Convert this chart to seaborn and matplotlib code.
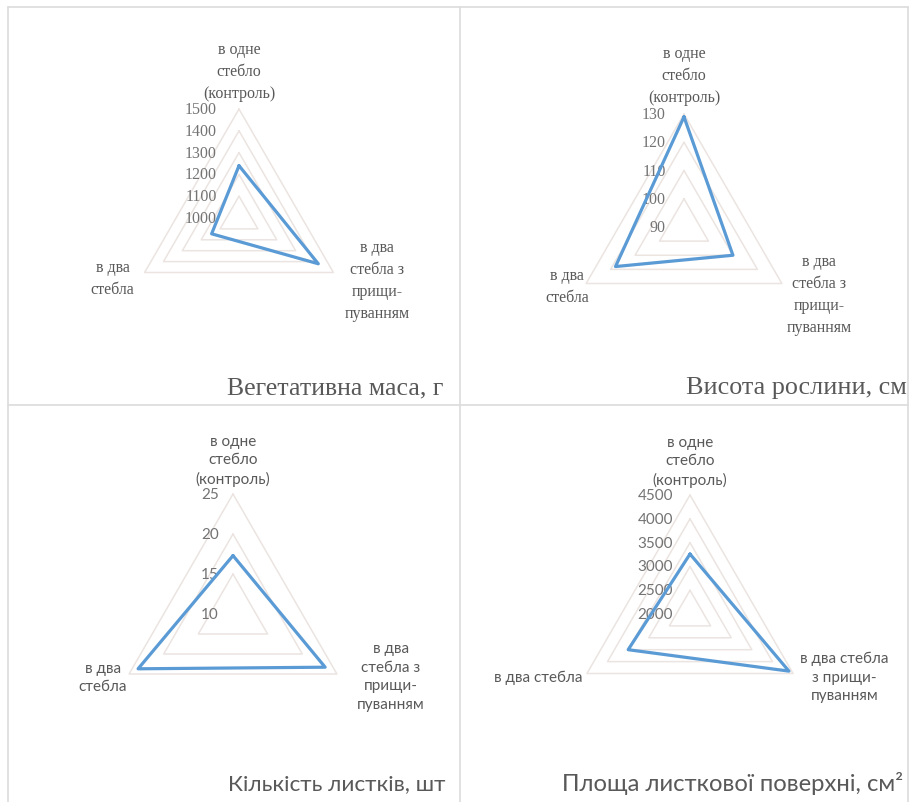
import numpy as np
import pandas as pd
import matplotlib
matplotlib.use("Agg")
import matplotlib.pyplot as plt
import seaborn as sns
from matplotlib.transforms import offset_copy
from matplotlib.lines import Line2D

sns.set_theme(style="white")

W, H = 910, 803
DPI = 100

# ---------------- data ----------------
cat_top = "в одне\nстебло\n(контроль)"
cat_right = "в два\nстебла з\nприщи-\nпуванням"
cat_left = "в два\nстебла"
cat_right_4 = "в два стебла\nз прищи-\nпуванням"
cat_left_4 = "в два стебла"

mass_values = [1240, 1420, 1145]
mass_ticks = [1000, 1100, 1200, 1300, 1400, 1500]

height_values = [129, 110, 118]
height_ticks = [90, 100, 110, 120, 130]

leaves_values = [17.3, 23.3, 23.7]
leaves_ticks = [10, 15, 20, 25]

area_values = [3260, 4400, 3500]
area_ticks = [2000, 2500, 3000, 3500, 4000, 4500]

titles = ["Вегетативна маса, г", "Висота рослини, см",
          "Кількість листків, шт", "Площа листкової поверхні, см²"]

SERIF = ["Liberation Serif", "DejaVu Serif"]
SANS = ["Lato", "DejaVu Sans"]
BLUE = "#5B9BD5"
GRID = "#ebe4e1"
TXT = "#595959"
TICK = "#737373"
FRAME = "#dcdcdc"

fig = plt.figure(figsize=(W / DPI, H / DPI), dpi=DPI)
fig.patch.set_facecolor("white")

theta = np.array([0, 2 * np.pi / 3, 4 * np.pi / 3, 2 * np.pi])


def px(x, y):
    return x / W, 1 - y / H


def radar(cx, cy, R, values, ticks, cats, font, fs, ls, tick_dx, lab_off):
    ax = fig.add_axes([(cx - R) / W, (H - (cy + R)) / H, 2 * R / W, 2 * R / H],
                      projection="polar")
    ax.set_theta_offset(np.pi / 2)
    ax.set_theta_direction(-1)
    ax.set_ylim(ticks[0], ticks[-1])
    ax.grid(False)
    ax.set_xticks([])
    ax.set_yticks([])
    ax.spines["polar"].set_visible(False)
    ax.patch.set_alpha(0)

    for t in ticks[1:]:
        ax.plot(theta, [t] * 4, color=GRID, lw=1.1, clip_on=False, zorder=1)

    df = pd.DataFrame({"theta": theta, "value": list(values) + [values[0]]})
    sns.lineplot(data=df, x="theta", y="value", sort=False, estimator=None,
                 ax=ax, color=BLUE, linewidth=2.3, clip_on=False, zorder=3)
    for l in ax.lines[-1:]:
        l.set_solid_joinstyle("round")
    ax.set_xlabel("")
    ax.set_ylabel("")

    for t in ticks:
        tr = offset_copy(ax.transData, fig=fig, x=tick_dx, y=0, units="dots")
        ax.text(0, t, f"{t}", transform=tr, ha="right", va="center",
                fontsize=fs, family=font, color=TICK, zorder=2, clip_on=False)

    (tx, ty), (rx, ry), (lx, ly) = lab_off
    tr = offset_copy(ax.transData, fig=fig, x=tx, y=ty, units="dots")
    ax.text(0, ticks[-1], cats[0], transform=tr, ha="center", va="bottom",
            multialignment="center", fontsize=fs, family=font, color=TXT,
            linespacing=ls, clip_on=False)
    tr = offset_copy(ax.transData, fig=fig, x=rx, y=ry, units="dots")
    ax.text(theta[1], ticks[-1], cats[1], transform=tr, ha="left", va="center",
            multialignment="center", fontsize=fs, family=font, color=TXT,
            linespacing=ls, clip_on=False)
    tr = offset_copy(ax.transData, fig=fig, x=lx, y=ly, units="dots")
    ax.text(theta[2], ticks[-1], cats[2], transform=tr, ha="right", va="center",
            multialignment="center", fontsize=fs, family=font, color=TXT,
            linespacing=ls, clip_on=False)
    return ax


radar(239, 219, 109, mass_values, mass_ticks, [cat_top, cat_right, cat_left],
      SERIF, 11.5, 1.5, -22, [(0, 8), (11, -8), (-10, -6)])
radar(684, 228, 113, height_values, height_ticks, [cat_top, cat_right, cat_left],
      SERIF, 11.5, 1.5, -18, [(0, 9), (5, -11), (3, -3)])
radar(233, 615, 120, leaves_values, leaves_ticks, [cat_top, cat_right, cat_left],
      SANS, 11, 1.4, -14, [(0, 8), (20, -2), (-2, -3)])
radar(690, 615, 119, area_values, area_ticks, [cat_top, cat_right_4, cat_left_4],
      SANS, 11, 1.4, -17, [(0, 8), (7, -3), (-4, -3)])

# titles
fig.text(*px(443, 388), titles[0], ha="right", va="center", fontsize=18.5,
         family=SERIF, color=TXT)
fig.text(*px(907, 388), titles[1], ha="right", va="center", fontsize=18.8,
         family=SERIF, color=TXT)
fig.text(*px(445, 784), titles[2], ha="right", va="center", fontsize=16.2,
         family=SANS, color=TXT)
fig.text(*px(903, 784), titles[3], ha="right", va="center", fontsize=17.2,
         family=SANS, color=TXT)

# frame and separators
for (x0, y0, x1, y1) in [(8, 8, 908, 8), (8, 8, 8, 803), (908, 8, 908, 803),
                         (460, 8, 460, 803), (8, 406, 908, 406)]:
    fig.add_artist(Line2D([x0 / W, x1 / W], [1 - y0 / H, 1 - y1 / H],
                          color=FRAME, lw=1.2, transform=fig.transFigure))

fig.savefig("out.png", dpi=DPI, facecolor="white")
